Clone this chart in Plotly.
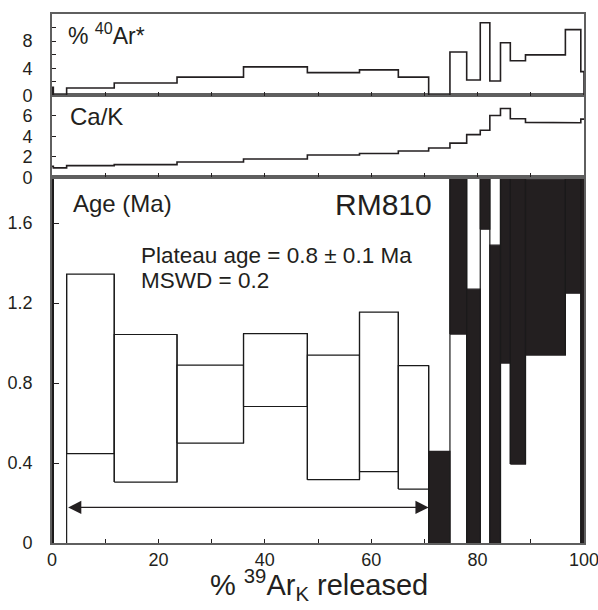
import plotly.graph_objects as go

# Incremental heating steps: boundaries in cumulative % 39ArK released
bounds = [0, 0.25, 2.75, 11.7, 23.5, 36.0, 48.0, 57.8, 65.1, 70.8, 74.8,
          77.95, 80.5, 82.3, 84.3, 86.15, 89.0, 96.5, 99.4, 100]
# radiogenic 40Ar (%) per step
ar40_pct = [1.2, 0, 1.1, 1.84, 2.7, 4.2, 3.36, 3.76, 2.7, 0, 6.4, 2.28,
            10.7, 2.13, 7.76, 5.1, 5.98, 9.7, 3.5]
# Ca/K per step
ca_k = [1.06, 0.91, 1.13, 1.23, 1.49, 1.78, 2.17, 2.32, 2.56, 2.85, 3.33,
        4.16, 4.59, 6.04, 6.72, 5.71, 5.36, 5.32, 5.68]
# apparent age error envelope (Ma) per step
age_lo = [-2.0, -1.5, 0.447, 0.305, 0.50, 0.683, 0.317, 0.357, 0.27, -0.35,
          1.045, -0.2, 1.57, -0.15, 0.90, 0.395, 0.94, 1.25, -1.8]
age_hi = [3.2, -0.3, 1.345, 1.043, 0.89, 1.047, 0.94, 1.155, 0.887, 0.458,
          2.4, 1.27, 2.3, 1.49, 2.7, 2.9, 1.82, 2.2, 3.5]
# steps included in the plateau
plateau_steps = [2, 3, 4, 5, 6, 7, 8]

sample = "RM810"
plateau_text = "Plateau age = 0.8 ± 0.1 Ma"
mswd_text = "MSWD = 0.2"

FONT = "Liberation Sans, Arial, sans-serif"
INK = "#231F20"
FRAME = "#5f5f5f"

fig = go.Figure()


def staircase(values, drop_ends):
    xs, ys = [], []
    if drop_ends:
        xs.append(bounds[0]); ys.append(0)
    for i, v in enumerate(values):
        xs += [bounds[i], bounds[i + 1]]
        ys += [v, v]
    if drop_ends:
        xs.append(bounds[-1]); ys.append(0)
    return xs, ys


# % 40Ar* panel
sx, sy = staircase(ar40_pct, True)
fig.add_trace(go.Scatter(x=sx, y=sy, mode="lines", xaxis="x3", yaxis="y3",
                         line=dict(color=INK, width=1.6), hoverinfo="skip"))
# Ca/K panel
sx, sy = staircase(ca_k, False)
fig.add_trace(go.Scatter(x=sx, y=sy, mode="lines", xaxis="x2", yaxis="y2",
                         line=dict(color=INK, width=1.6), hoverinfo="skip"))

# Age spectrum boxes
for i in range(len(age_lo)):
    x0, x1 = bounds[i], bounds[i + 1]
    lo, hi = age_lo[i], age_hi[i]
    in_plateau = i in plateau_steps
    fig.add_trace(go.Scatter(
        x=[x0, x1, x1, x0, x0], y=[lo, lo, hi, hi, lo],
        mode="lines", fill="toself",
        fillcolor="white" if in_plateau else INK,
        line=dict(color="#1a1a1a" if in_plateau else INK, width=1.2),
        xaxis="x", yaxis="y", hoverinfo="skip"))

# vertical connectors between neighbouring steps
cx, cy = [], []
for i in range(len(age_lo) - 1):
    xb = bounds[i + 1]
    cx += [xb, xb, None]
    cy += [min(age_lo[i], age_lo[i + 1]), max(age_hi[i], age_hi[i + 1]), None]
fig.add_trace(go.Scatter(x=cx, y=cy, mode="lines", xaxis="x", yaxis="y",
                         line=dict(color="#1a1a1a", width=1.2), hoverinfo="skip"))

plateau_start = bounds[plateau_steps[0]]
plateau_end = bounds[plateau_steps[-1] + 1]

annotations = [
    # plateau extent arrow
    dict(x=plateau_end, y=0.178, ax=plateau_start, ay=0.178,
         xref="x", yref="y", axref="x", ayref="y", text="",
         showarrow=True, arrowside="end+start", arrowhead=2, startarrowhead=2,
         arrowsize=2.4, startarrowsize=2.4, arrowwidth=1.1, arrowcolor=INK,
         standoff=0, startstandoff=0),
    dict(x=3.6, y=1.70, xref="x", yref="y", text="Age (Ma)", showarrow=False,
         xanchor="left", yanchor="middle", font=dict(size=24, color=INK)),
    dict(x=71.8, y=1.695, xref="x", yref="y", text=sample, showarrow=False,
         xanchor="right", yanchor="middle", font=dict(size=30, color=INK)),
    dict(x=16.4, y=1.44, xref="x", yref="y", text=plateau_text, showarrow=False,
         xanchor="left", yanchor="middle", font=dict(size=22.5, color=INK)),
    dict(x=16.4, y=1.315, xref="x", yref="y", text=mswd_text, showarrow=False,
         xanchor="left", yanchor="middle", font=dict(size=22.5, color=INK)),
    dict(x=2.7, y=9.1, xref="x3", yref="y3", text="% <sup>40</sup>Ar*",
         showarrow=False, xanchor="left", yanchor="middle",
         font=dict(size=23, color=INK)),
    dict(x=3.0, y=5.9, xref="x2", yref="y2", text="Ca/K", showarrow=False,
         xanchor="left", yanchor="middle", font=dict(size=24, color=INK)),
    dict(x=0.502, y=-0.079, xref="paper", yref="paper",
         text="% <sup>39</sup>Ar<sub>K</sub> released", showarrow=False,
         xanchor="center", yanchor="middle", font=dict(size=29, color=INK)),
]

minor_x = dict(ticks="inside", dtick=10, ticklen=4, tickcolor=INK, showgrid=False)
common_x = dict(range=[0, 100], tick0=0, dtick=20, ticks="inside", ticklen=4,
                tickcolor=INK, showline=True, linecolor=FRAME, linewidth=1.8,
                mirror=True, showgrid=False, zeroline=False, automargin=False,
                minor=minor_x)
common_y = dict(ticks="inside", tickcolor=INK, showline=True, linecolor=FRAME,
                linewidth=1.8, mirror=True, showgrid=False, zeroline=False,
                automargin=False, ticklabelstandoff=14,
                tickfont=dict(size=18, color=INK))

main_top = 0.6915
mid_top = 0.8461

fig.update_layout(
    width=598, height=610,
    margin=dict(l=52, r=14, t=14, b=67),
    paper_bgcolor="white", plot_bgcolor="white",
    showlegend=False,
    font=dict(family=FONT, color=INK),
    xaxis=dict(**common_x, anchor="y", showticklabels=True,
               ticklabelstandoff=-1, ticklabeloverflow="allow",
               tickfont=dict(size=18, color=INK)),
    xaxis2=dict(**common_x, anchor="y2", matches="x", showticklabels=False),
    xaxis3=dict(**common_x, anchor="y3", matches="x", showticklabels=False),
    yaxis=dict(**common_y, domain=[0, main_top], anchor="x", range=[0, 1.83],
               tick0=0, dtick=0.4, ticklen=7),
    yaxis2=dict(**common_y, domain=[main_top, mid_top], anchor="x2",
                range=[0, 8], tickvals=[0, 2, 4, 6], ticklen=4),
    yaxis3=dict(**common_y, domain=[mid_top, 1], anchor="x3", range=[0, 12],
                tickvals=[0, 4, 8], ticklen=4,
                minor=dict(ticks="inside", tickvals=[2, 6, 10], ticklen=4,
                           tickcolor=INK, showgrid=False)),
    annotations=annotations,
)

fig.write_html("out.html")
